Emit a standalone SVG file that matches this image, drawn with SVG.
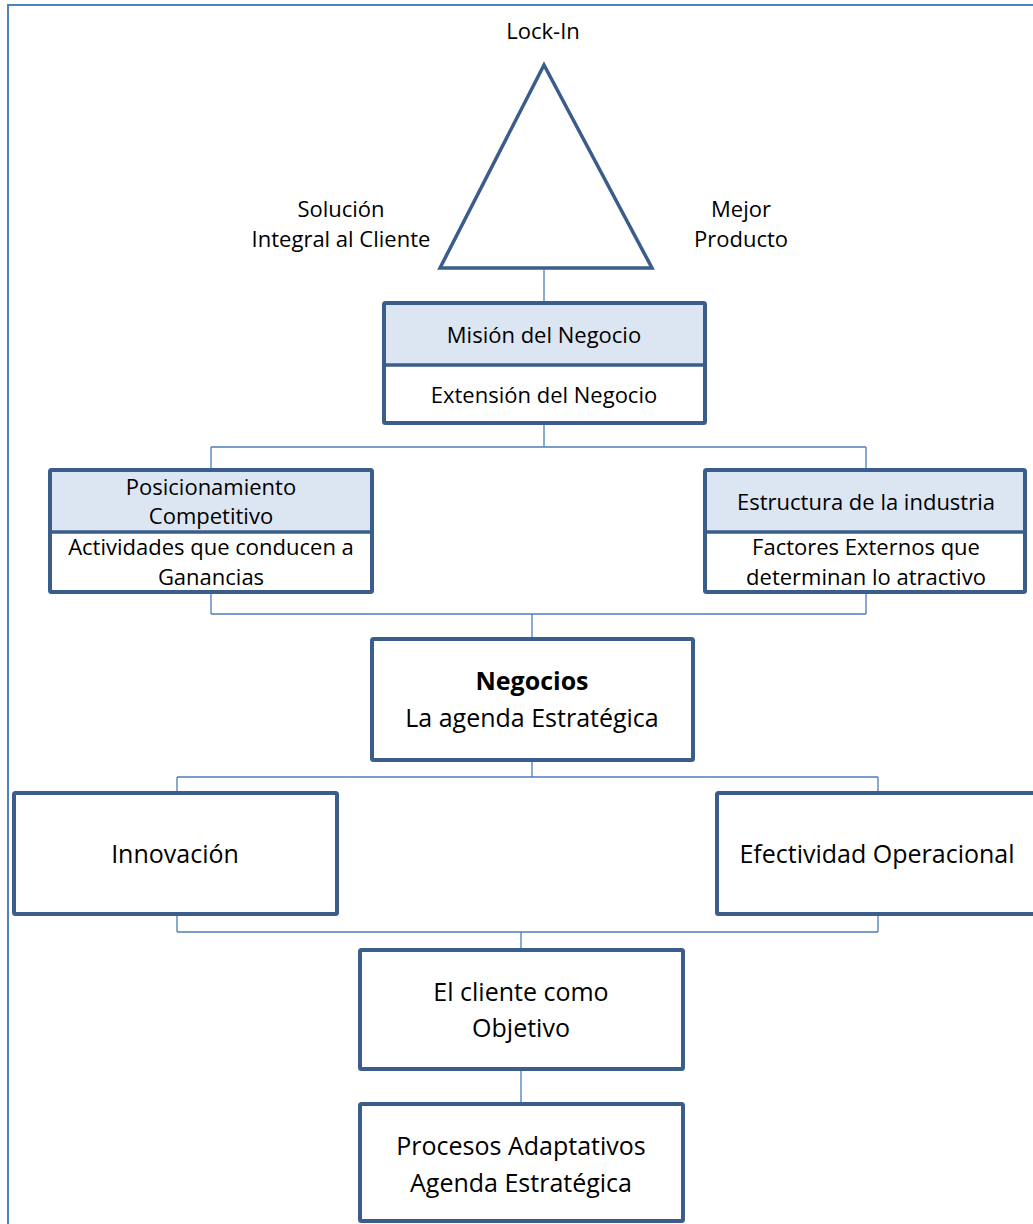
<svg xmlns="http://www.w3.org/2000/svg" width="1033" height="1224" viewBox="0 0 1033 1224">
  <style>
    .frame { fill: none; stroke: #4f81bd; stroke-width: 2; }
    .box { fill: #ffffff; stroke: #3a5d8c; stroke-width: 4; }
    .head { fill: #dce6f2; stroke: none; }
    .div { stroke: #3a5d8c; stroke-width: 3.5; }
    .tri { fill: #ffffff; stroke: #3a5d8c; stroke-width: 3.5; stroke-linejoin: miter; }
    .conn { fill: none; stroke: #4a7ebb; stroke-width: 1.3; }
    text { font-family: "Open Sans", "Liberation Sans", sans-serif; fill: #000000; text-anchor: middle; }
    .t22 { font-size: 22px; }
    .t25 { font-size: 25px; }
    .b { font-weight: bold; }
  </style>

  <rect width="1033" height="1224" fill="#ffffff"/>
  <rect class="frame" x="8" y="5" width="1050" height="1240"/>

  <!-- connectors -->
  <g id="connectors">
    <path class="conn" d="M544 270 V303"/>
    <path class="conn" d="M544 423 V447 M211 447 H866 M211 447 V470 M866 447 V470"/>
    <path class="conn" d="M211 592 V614 M866 592 V614 M211 614 H866 M532 614 V639"/>
    <path class="conn" d="M532 760 V777 M177 777 H878 M177 777 V793 M878 777 V793"/>
    <path class="conn" d="M177 914 V932 M878 914 V932 M177 932 H878 M521 932 V950"/>
    <path class="conn" d="M521 1069 V1104"/>
  </g>

  <!-- triangle with corner labels -->
  <g id="triangle">
    <polygon class="tri" points="544,65 440,268 652,268"/>
    <text class="t22" x="543" y="39">Lock-In</text>
    <text class="t22" x="341" y="217">Solución</text>
    <text class="t22" x="341" y="247">Integral al Cliente</text>
    <text class="t22" x="741" y="217">Mejor</text>
    <text class="t22" x="741" y="247">Producto</text>
  </g>

  <g id="mision">
    <rect class="box" x="384" y="303" width="321" height="120" rx="1.5"/>
    <rect class="head" x="386" y="305" width="317" height="60"/>
    <line class="div" x1="384" y1="365" x2="705" y2="365"/>
    <text class="t22" x="544" y="343">Misión del Negocio</text>
    <text class="t22" x="544" y="403">Extensión del Negocio</text>
  </g>

  <g id="posicionamiento">
    <rect class="box" x="50" y="470" width="322" height="122" rx="1.5"/>
    <rect class="head" x="52" y="472" width="318" height="60"/>
    <line class="div" x1="50" y1="532" x2="372" y2="532"/>
    <text class="t22" x="211" y="495">Posicionamiento</text>
    <text class="t22" x="211" y="524">Competitivo</text>
    <text class="t22" x="211" y="555">Actividades que conducen a</text>
    <text class="t22" x="211" y="585">Ganancias</text>
  </g>

  <g id="estructura">
    <rect class="box" x="705" y="470" width="320" height="122" rx="1.5"/>
    <rect class="head" x="707" y="472" width="316" height="60"/>
    <line class="div" x1="705" y1="532" x2="1025" y2="532"/>
    <text class="t22" x="866" y="510">Estructura de la industria</text>
    <text class="t22" x="866" y="555">Factores Externos que</text>
    <text class="t22" x="866" y="585">determinan lo atractivo</text>
  </g>

  <g id="negocios">
    <rect class="box" x="372" y="639" width="321" height="121" rx="1.5"/>
    <text class="t25 b" x="532" y="690">Negocios</text>
    <text class="t25" x="532" y="727">La agenda Estratégica</text>
  </g>

  <g id="innovacion">
    <rect class="box" x="14" y="793" width="323" height="121" rx="1.5"/>
    <text class="t25" x="175" y="863">Innovación</text>
  </g>

  <g id="efectividad">
    <rect class="box" x="717" y="793" width="340" height="121" rx="1.5"/>
    <text class="t25" x="877" y="863">Efectividad Operacional</text>
  </g>

  <g id="cliente">
    <rect class="box" x="360" y="950" width="323" height="119" rx="1.5"/>
    <text class="t25" x="521" y="1001">El cliente como</text>
    <text class="t25" x="521" y="1037">Objetivo</text>
  </g>

  <g id="procesos">
    <rect class="box" x="360" y="1104" width="323" height="117" rx="1.5"/>
    <text class="t25" x="521" y="1155">Procesos Adaptativos</text>
    <text class="t25" x="521" y="1192">Agenda Estratégica</text>
  </g>
</svg>
